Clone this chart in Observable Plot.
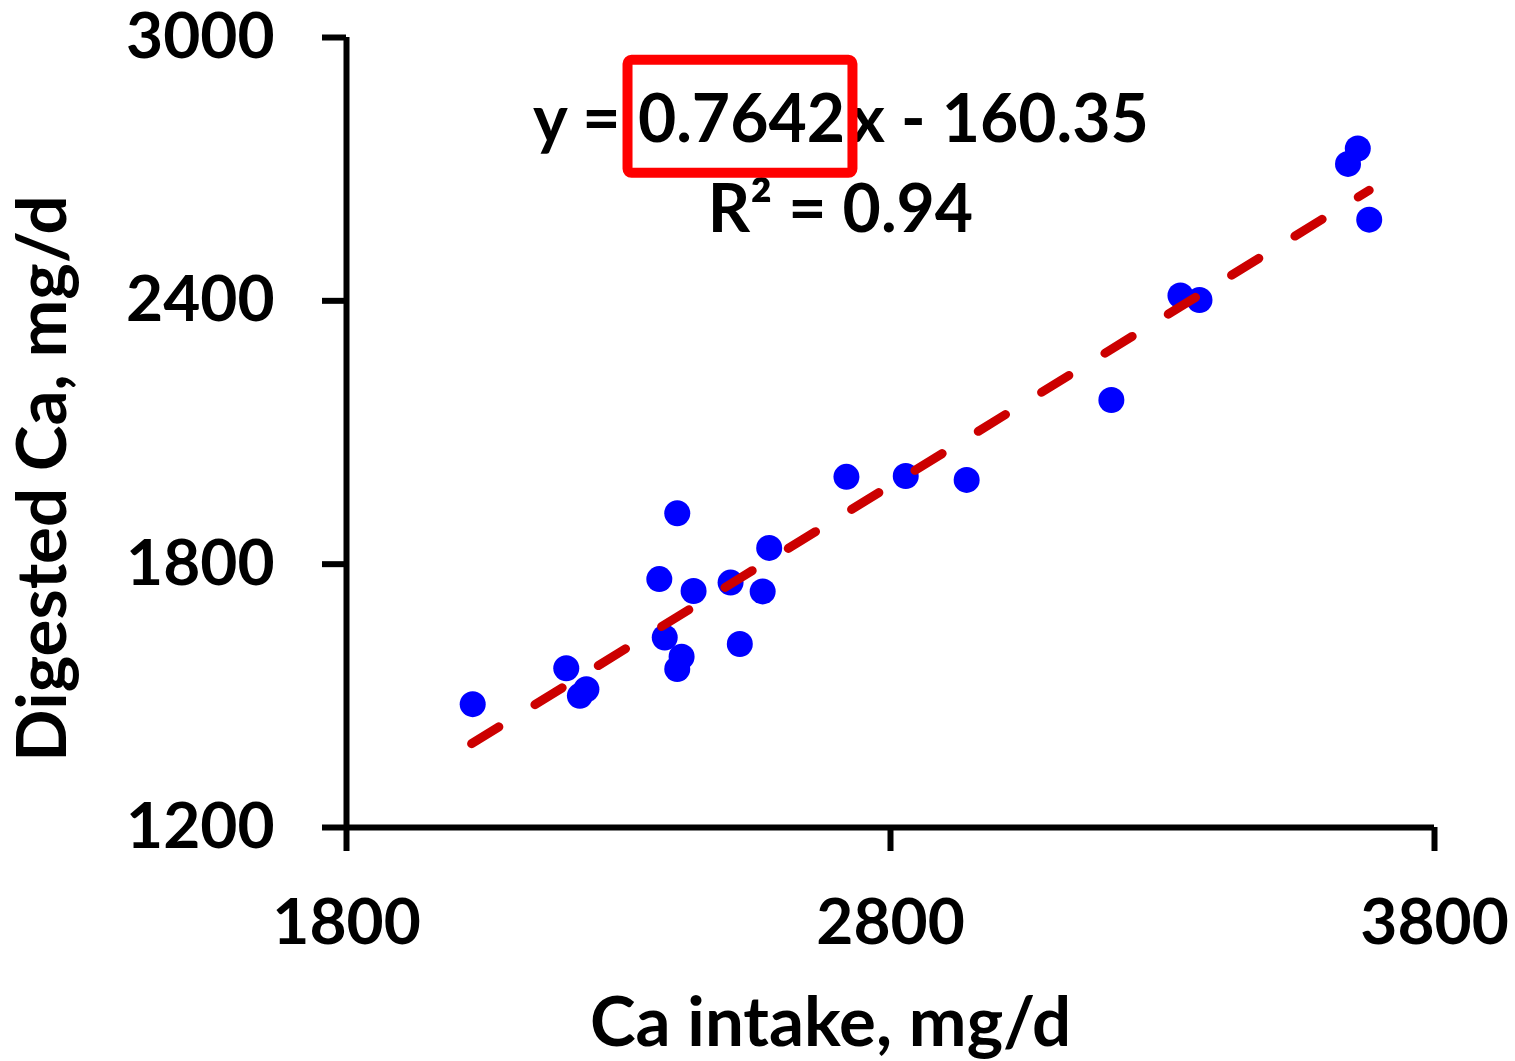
<!DOCTYPE html>
<html><head><meta charset="utf-8">
<script src="https://cdn.jsdelivr.net/npm/d3@7"></script>
<script src="https://cdn.jsdelivr.net/npm/@observablehq/plot@0.6"></script>
<style>html,body{margin:0;padding:0;background:#fff;}</style>
</head><body><div id="chart"></div>
<script>
// Data
const caIntake   = [2032, 2204, 2229, 2241, 2375, 2408, 2385, 2416, 2408, 2438, 2506, 2565, 2523, 2577, 2719, 2828, 2940, 3206, 3333, 3368, 3641, 3659, 3680];
const digestedCa = [1481, 1563, 1500, 1515, 1766, 1916, 1633, 1589, 1561, 1739, 1758, 1738, 1618, 1837, 1999, 2001, 1992, 2174, 2412, 2402, 2712, 2747, 2585];
const xTicks = [1800, 2800, 3800];
const yTicks = [1200, 1800, 2400, 3000];
const trendX = [2030, 3680];
const trendY = [1391.0, 2651.9];
const eqLeft = "y =";
const eqSlope = "0.7642";
const eqRight = "x - 160.35";
const r2Label = "R² = 0.94";
const xTitle = "Ca intake, mg/d";
const yTitle = "Digested Ca, mg/d";

const points = caIntake.map((x, i) => ({x, y: digestedCa[i]}));
const trend = trendX.map((x, i) => ({x, y: trendY[i]}));
const font = "Lato, 'Open Sans', sans-serif";
const FS = 64;   // tick labels
const FE = 66;   // equation
const FT = 69;   // axis titles

const plot = Plot.plot({
  width: 1515, height: 1061,
  marginLeft: 346, marginRight: 81, marginTop: 37, marginBottom: 234,
  x: {domain: [1800, 3800]},
  y: {domain: [1200, 3000]},
  style: {fontFamily: font, fontWeight: "bold", background: "#fff", color: "#000", overflow: "visible"},
  marks: [
    Plot.axisX({ticks: xTicks, tickFormat: "d", tickSize: 24, tickPadding: 47, strokeWidth: 6, fontSize: FS, fontWeight: "bold", label: null}),
    Plot.axisY({ticks: yTicks, tickFormat: "d", tickSize: 24, tickPadding: 48, strokeWidth: 6, fontSize: FS, fontWeight: "bold", label: null}),
    Plot.ruleX([1800], {strokeWidth: 6}),
    Plot.ruleY([1200], {strokeWidth: 6}),
    Plot.dot(points, {x: "x", y: "y", r: 13, fill: "#0000ff"}),
    Plot.line(trend, {x: "x", y: "y", stroke: "#cc0000", strokeWidth: 9, strokeDasharray: "32,42.4", strokeLinecap: "round"}),
    Plot.text([eqLeft], {x: 2303.7, y: 2810, textAnchor: "end", lineAnchor: "middle", fontSize: FE, fontWeight: "bold"}),
    Plot.text([eqSlope], {x: 2526, y: 2810, textAnchor: "middle", lineAnchor: "middle", fontSize: FE, fontWeight: "bold"}),
    Plot.text([eqRight], {x: 2726.5, y: 2810, textAnchor: "start", lineAnchor: "middle", fontSize: FE, fontWeight: "bold"}),
    Plot.text([r2Label], {x: 2708, y: 2605, textAnchor: "middle", lineAnchor: "middle", fontSize: FE, fontWeight: "bold"}),
    Plot.rect([0], {x1: 2317.5, x2: 2731, y1: 2690.6, y2: 2948, stroke: "#ff0000", strokeWidth: 10, fill: "none", rx: 4}),
    Plot.text([xTitle], {frameAnchor: "bottom", dx: -60, dy: 196, textAnchor: "middle", lineAnchor: "middle", fontSize: FT, fontWeight: "bold"}),
    Plot.text([yTitle], {frameAnchor: "left", dx: -302.5, dy: 46, rotate: -90, textAnchor: "middle", lineAnchor: "middle", fontSize: FT, fontWeight: "bold"})
  ]
});
document.getElementById("chart").appendChild(plot);
</script>
</body></html>
